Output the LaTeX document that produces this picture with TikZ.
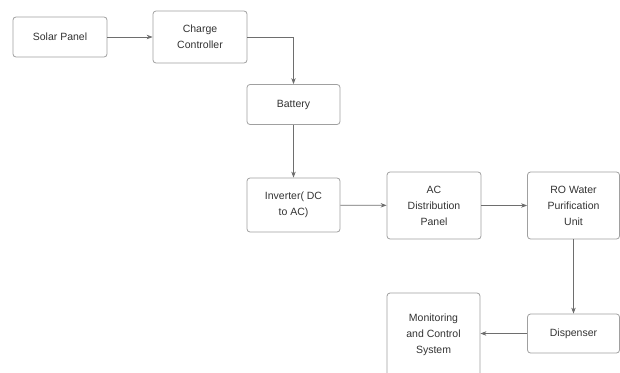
\documentclass[tikz,border=0pt]{standalone}
\usepackage{fontspec}
\setmainfont{Liberation Sans}
\usetikzlibrary{arrows.meta}
\definecolor{boxline}{HTML}{A0A0A0}
\definecolor{arrline}{HTML}{6E6E6E}
\definecolor{txt}{HTML}{333333}
\begin{document}
\begin{tikzpicture}[x=1pt,y=-1pt,
  blk/.style={draw=boxline,line width=0.8pt,rounded corners=3pt,fill=white,
    align=center,text=txt,font=\fontsize{10.5}{16}\selectfont,inner sep=2pt},
  conn/.style={draw=arrline,line width=0.7pt,-{Stealth[length=6pt,width=4.5pt]}}]
\useasboundingbox (0,0) rectangle (620,372);
\node[blk,minimum width=94pt,minimum height=40pt] (solar) at (60,37) {Solar Panel};
\node[blk,minimum width=94pt,minimum height=52pt] (charge) at (200,37) {Charge\\Controller};
\node[blk,minimum width=93pt,minimum height=40pt] (battery) at (293.5,104.5) {Battery};
\node[blk,minimum width=93pt,minimum height=54pt] (inverter) at (293.5,205) {Inverter( DC\\to AC)};
\node[blk,minimum width=94pt,minimum height=67pt] (acdist) at (434,205.5) {AC\\Distribution\\Panel};
\node[blk,minimum width=92pt,minimum height=67pt] (ro) at (573.5,205.5) {RO Water\\Purification\\Unit};
\node[blk,minimum width=92pt,minimum height=39pt] (disp) at (573.5,333.5) {Dispenser};
\node[blk,minimum width=93pt,minimum height=84pt] (mon) at (433.5,335) {Monitoring\\and Control\\System};
\draw[conn] (solar) -- (charge);
\draw[conn] (charge.east) -| (battery.north);
\draw[conn] (battery) -- (inverter);
\draw[conn] (inverter) -- (acdist);
\draw[conn] (acdist) -- (ro);
\draw[conn] (ro) -- (disp);
\draw[conn] (disp) -- (mon.east |- disp);
\end{tikzpicture}
\end{document}
